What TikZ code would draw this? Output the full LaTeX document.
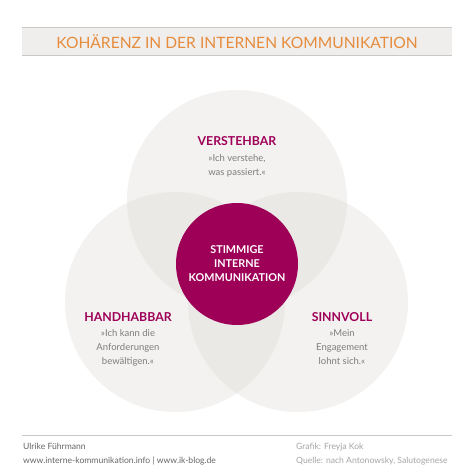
\documentclass[tikz,border=0pt]{standalone}
\usepackage{fontspec}
\setmainfont{Lato}
\definecolor{ikmagenta}{RGB}{158,0,88}
\definecolor{iktitle}{RGB}{230,140,60}
\definecolor{ikbar}{RGB}{239,238,237}
\definecolor{ikline}{RGB}{200,200,200}
\definecolor{ikcircle}{RGB}{222,218,213}
\definecolor{iktext}{RGB}{125,125,125}
\tikzset{
  ring/.style={fill=ikcircle, fill opacity=0.35, draw=none},
  heading/.style={font=\bfseries\fontsize{12.3}{14}\selectfont, text=ikmagenta, inner sep=0pt},
  quote/.style={font=\fontsize{9.5}{14}\selectfont, text=iktext, align=center, inner sep=0pt},
  footer/.style={font=\fontsize{8.6}{14}\selectfont, align=left, anchor=north west, inner sep=0pt}
}
\begin{document}
\begin{tikzpicture}[x=1pt,y=-1pt]
\useasboundingbox[fill=white] (0,0) rectangle (474,474);
  % title bar
  \fill[ikbar] (22,27) rectangle (452,55);
  \draw[ikline, line width=1pt] (22,27) -- (452,27);
  \draw[ikline, line width=0.6pt] (22,55) -- (452,55);
  \node[font=\fontsize{15.6}{17}\selectfont, text=iktitle] (title) at (237,42)
    {KOHÄRENZ IN DER INTERNEN KOMMUNIKATION};

  % the three circles
  \fill[ring] (237,200) circle (110);
  \fill[ring] (175,302) circle (110);
  \fill[ring] (298,302) circle (110);
  \node[circle, fill=ikmagenta, minimum size=122pt, inner sep=0pt] (core) at (237,264) {};
  \node[font=\bfseries\fontsize{10.8}{14}\selectfont, text=white, align=center] (coretext) at (core)
    {STIMMIGE\\INTERNE\\KOMMUNIKATION};

  \node[heading] (verst) at (237,141) {VERSTEHBAR};
  \node[quote, anchor=north] (verstq) at (237,154) {»Ich verstehe,\\ was passiert.«};
  \node[heading] (hand) at (128,317) {HANDHABBAR};
  \node[quote, anchor=north] (handq) at (128,329) {»Ich kann die\\Anforderungen\\ bewältigen.«};
  \node[heading] (sinn) at (342,317) {SINNVOLL};
  \node[quote, anchor=north] (sinnq) at (342,329) {»Mein\\Engagement\\ lohnt sich.«};

  % footer
  \draw[ikline, line width=0.6pt] (22,435) -- (452,435);
  \node[footer, text=black!60] (author) at (23,443)
    {Ulrike Führmann\\www.interne-kommunikation.info | www.ik-blog.de};
  \node[footer, text=black!35] (credit) at (296,443)
    {Grafik: Freyja Kok\\Quelle: nach Antonowsky, Salutogenese};
\end{tikzpicture}
\end{document}
